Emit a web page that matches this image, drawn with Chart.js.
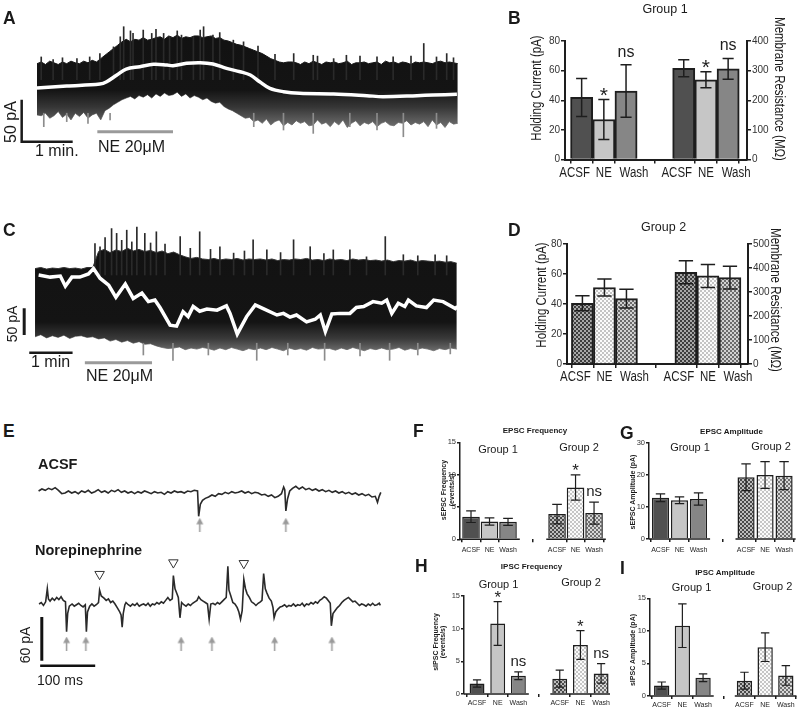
<!DOCTYPE html>
<html>
<head>
<meta charset="utf-8">
<script src="https://cdn.jsdelivr.net/npm/chart.js@4.4.1/dist/chart.umd.min.js"></script>
<style>
  body { margin: 0; width: 797px; height: 711px; position: relative; background: #fff; overflow: hidden; }
  canvas { position: absolute; }
</style>
</head>
<body>
<canvas id="cA" width="470" height="170" style="left:0;top:0"></canvas>
<canvas id="cB" width="327" height="200" style="left:470px;top:0"></canvas>
<canvas id="cC" width="470" height="185" style="left:0;top:200px"></canvas>
<canvas id="cD" width="327" height="185" style="left:470px;top:200px"></canvas>
<canvas id="cE1" width="380" height="72" style="left:20px;top:468px"></canvas>
<canvas id="cE2" width="380" height="142" style="left:20px;top:548px"></canvas>
<canvas id="cF" width="197" height="170" style="left:410px;top:385px"></canvas>
<canvas id="cG" width="197" height="170" style="left:600px;top:385px"></canvas>
<canvas id="cH" width="200" height="166" style="left:410px;top:545px"></canvas>
<canvas id="cI" width="197" height="166" style="left:600px;top:545px"></canvas>
<script>
// ---- panel A : holding current trace, group 1 cell (s, pA) ----
const aTime = [0,5,10,15,20,25,30,35,40,45,50,55,60,65,70,75,80,85,90,95,
  100,105,110,115,120,125,130,135,140,145,150,155,160,165,170,175,180,185,190,195,
  200,205,210,215,220,225,230,235,240,245,250,255,260,265,270,275,280,285,290,295,
  300,305,310,315,320,325,330,335,340,345,350,355,360,365,370,375,380,385,390,395,
  400,405,410,415,420,425,430,435,440,445,450,455,460,465,470,475,480,485,490,495];
const aUpper = [29,31,28,32,30,28,31,29,32,30, 29,32,30,33,31,35,39,43,47,51,
  55,58,55,58,57,60,57,58,60,61, 58,62,60,63,59,61,60,62,62,60,
  61,62,59,60,57,56,54,52,51,49, 47,45,43,41,38,35,33,31,30,31,
  31,30,28,31,29,32,30,28,31,30, 31,29,30,32,28,30,30,31,29,30,
  31,28,32,30,31,29,31,30,28,31, 30,31,30,29,31,32,30,31,30,29];
const aLower = [-32,-33,-30,-36,-33,-28,-35,-31,-38,-30, -34,-29,-36,-32,-30,-38,-27,-24,-20,-17,
  -14,-12,-10,-13,-9,-11,-8,-12,-7,-10, -6,-9,-8,-5,-10,-7,-12,-9,-11,-14,
  -12,-16,-18,-17,-22,-25,-27,-30,-33,-36, -35,-40,-38,-42,-37,-44,-40,-38,-45,-41,
  -44,-39,-42,-40,-45,-44,-38,-43,-41,-46, -40,-44,-38,-47,-42,-39,-45,-41,-43,-40,
  -46,-42,-40,-44,-45,-41,-42,-39,-44,-41, -43,-40,-46,-38,-44,-41,-47,-40,-43,-42];
const aSpikeT = [5,19,30,47,62,74,90,98,102,110,113,125,135,140,149,156,165,170,184,192,
  196,207,215,231,243,260,280,302,325,330,349,364,380,400,419,440,455,470,482,490];
const aSpikeHi = [37,34,36,35,37,41,49,61,73,68,65,69,65,70,65,61,68,63,61,69,
  73,63,66,57,55,50,40,41,39,38,35,39,38,37,37,38,53,37,41,36];
const aDipT = [8,35,60,86,255,290,325,368,400,431,470];
const aDipLo = [-46,-40,-42,-38,-46,-50,-54,-46,-50,-58,-48];
const aMeanT = [0,35,74,82,94,105,121,137,153,160,176,192,207,223,239,251,262,274,290,309,349,388,407,447,466,494];
const aMeanI = [0,2.4,4.8,7.5,15.5,22.6,25.4,28.2,27.4,26.6,29.4,30.2,28.6,23.4,19.4,15.5,7.5,-0.4,-4.4,-6.3,-7.1,-9.1,-10.3,-9.1,-8.3,-7.5];
const aNeOn = [71, 160];

// ---- panel C : holding current trace, group 2 cell (s, pA) ----
const cTime = [0,8,16,24,32,40,48,56,64,72,80,88,96,104,112,120,128,136,144,152,
  160,168,176,184,192,200,208,216,224,232,240,248,256,264,272,280,288,296,304,312,
  320,328,336,344,352,360,368,376,384,392,400,408,416,424,432,440,448,456,464,472,
  480,488,496,504,512,520,528,536,544,552,560,568,576,584];
const cUpper = [12,14,11,13,12,14,12,13,11,14, 14,44,48,42,47,44,50,45,48,44,
  46,42,45,40,43,38,34,31,33,30, 29,31,28,30,29,31,28,30,29,30,
  28,30,27,29,28,30,29,31,28,29, 27,30,28,29,27,30,28,29,27,28,
  26,28,25,27,26,28,25,27,26,25, 26,24,25,22];
const cLower = [-116,-112,-118,-114,-117,-113,-119,-115,-114,-117, -116,-120,-118,-124,-121,-126,-123,-128,-125,-130,
  -129,-133,-136,-138,-137,-135,-140,-137,-139,-136, -138,-141,-137,-140,-136,-139,-142,-138,-140,-137,
  -140,-136,-139,-142,-137,-140,-138,-141,-136,-139, -138,-138,-141,-137,-140,-136,-139,-142,-138,-140,
  -137,-140,-139,-136,-141,-138,-140,-137,-139,-142, -138,-140,-137,-139];
const cSpikeT = [83,90,97,106,113,120,127,134,141,152,160,168,180,201,215,228,243,256,275,290,
  302,321,340,358,381,400,413,436,459,485,510,530,554,570];
const cSpikeHi = [59,53,70,87,78,65,84,62,90,78,60,81,58,72,50,81,48,53,41,45,
  66,47,42,66,53,40,47,47,34,72,38,36,38,36];
const cDipT = [150,191,240,307,350,401,450,491,530,575];
const cDipLo = [-150,-160,-150,-160,-150,-160,-152,-160,-150,-148];
const cMeanT = [5,21,35,42,51,62,74,81,90,102,112,125,136,148,157,166,173,187,196,205,212,219,228,238,252,265,270,280,293,305,
  316,335,344,353,362,376,388,395,402,411,422,436,445,455,468,480,487,494,503,512,517,528,542,552,565,582,585];
const cMeanI = [0,-4,-2,-21,-4,-4,2,12,-6,-19,-42,-17,-44,-34,-50,-47,-61,-94,-96,-69,-78,-59,-68,-64,-66,-58,-72,-111,-78,-56,
  -63,-75,-72,-79,-75,-88,-83,-75,-106,-73,-72,-72,-61,-59,-50,-53,-47,-72,-53,-59,-47,-58,-61,-47,-50,-63,-59];
const cNeOn = [69, 162];

// ---- panel E : spontaneous currents (ms, pA) ----
const acsfT = [0,6,12,18,24,30,36,42,48,54,60,66,72,78,84,90,96,102,108,114,120,126,132,138,144,150,156,162,168,174,
  180,186,192,198,204,210,216,222,228,234,240,246,252,258,264,270,276,282,288,290,293,297,302,308,314,320,
  326,332,338,344,350,356,362,368,374,380,386,392,398,404,410,416,422,428,434,440,444,446,448,451,455,
  460,466,472,478,484,490,496,502,508,514,520,526,532,538,544,550,556,562,568,574,580,586,592,598,604,610,614,617,620];
const acsfI = [2,5,3,6,4,7,3,-2,-1,2,-1,1,-2,2,0,3,-1,1,4,0,2,-1,3,1,4,0,2,-1,1,-2,
  1,-1,2,0,-2,1,-1,0,-3,1,-1,2,0,1,-1,2,1,3,2,-36,-18,-12,-9,-7,-4,-6,
  -2,-3,0,-2,1,-1,0,2,-1,1,-2,0,-1,-4,-3,-6,-4,-8,-6,-2,8,4,-28,-10,2,
  6,9,5,8,4,6,3,5,2,4,1,3,0,2,-1,1,-2,0,-3,-1,-4,-2,-5,-3,-7,-6,-15,-6,0];
const acsfEvents = [292, 448];
const neT = [0,4,8,12,15,17,20,24,28,32,36,40,44,48,50,52,55,60,64,68,72,76,80,84,86,88,92,96,100,104,
  108,110,113,118,122,126,130,134,138,142,146,149,151,153,156,158,162,166,170,174,
  178,182,186,190,194,198,202,206,210,214,218,222,226,230,234,238,242,244,247,250,
  253,256,259,263,267,271,275,279,283,287,290,294,298,302,306,309,312,316,320,324,
  328,332,336,340,343,345,348,352,356,360,363,366,369,372,375,378,382,386,390,394,
  398,402,405,408,411,414,418,422,425,427,430,434,438,442,446,450,454,458,462,466,
  470,474,478,482,486,490,494,498,502,506,510,514,518,522,526,529,531,534,538,542,
  546,550,554,558,562,566,570,574,578,582,586,590,594,598,602,606,610,614,618,620];
const neI = [1,3,-1,4,22,8,5,9,6,10,7,11,6,4,-37,-12,-2,1,-2,0,2,-1,-3,0,-37,-10,-2,1,-2,0,
  3,20,12,9,6,8,3,5,1,-4,-9,-14,-31,-12,0,3,0,-2,1,-1,
  2,-2,0,1,-1,2,-2,1,0,3,1,4,2,6,10,6,8,40,22,16,
  10,-18,3,0,-2,1,-1,2,4,6,11,7,5,3,1,-20,1,2,0,3,
  1,4,7,10,53,20,13,3,1,-4,-10,-20,-8,35,22,15,10,4,2,-1,
  2,4,6,43,22,16,9,5,-4,-18,-10,-6,-3,-2,0,-3,-1,-2,1,-2,
  0,-1,2,-2,1,0,3,1,4,2,6,8,11,9,5,2,-29,-12,-8,-4,
  -1,3,6,8,10,7,4,5,2,-1,1,0,-2,1,-1,2,-1,0,2,-1];
const neEvents = [50, 85, 258, 314, 428, 532];
const neMarkT = [110, 244, 372];
const neMarkI = [42, 58, 57];

// ---- bar graphs ----
const conditions = ["ACSF", "NE", "Wash"];
const holdG1 = [41.9, 27, 46.2];
const holdG1Sem = [12.8, 13.5, 17.7];
const holdG1Sig = ["", "*", "ns"];
const resG1 = [308, 269, 306];
const resG1Sem = [29, 27, 35];
const resG1Sig = ["", "*", "ns"];
const holdG2 = [40.5, 51, 43.6];
const holdG2Sem = [5, 5.7, 6.2];
const resG2 = [382, 367, 360];
const resG2Sem = [48, 48, 47];
const epscFreqG1 = [3.5, 2.75, 2.7];
const epscFreqG1Sem = [0.9, 0.55, 0.55];
const epscFreqG2 = [3.9, 8.0, 4.05];
const epscFreqG2Sem = [1.5, 1.95, 1.7];
const epscFreqG2Sig = ["", "*", "ns"];
const epscAmpG1 = [12.9, 12.1, 12.5];
const epscAmpG1Sem = [1.2, 1.05, 1.9];
const epscAmpG2 = [19.3, 20.0, 19.8];
const epscAmpG2Sem = [4.2, 4.15, 4.35];
const ipscG1 = [1.6, 10.8, 2.8];
const ipscG1Sem = [0.55, 3.35, 0.6];
const ipscG1Sig = ["", "*", "ns"];
const ipscG2 = [2.35, 7.5, 3.15];
const ipscG2Sem = [1.3, 2.2, 1.5];
const ipscG2Sig = ["", "*", "ns"];

const FONT = '"Liberation Sans", Arial, Helvetica, sans-serif';
const NARROW = 0.82;
Chart.defaults.font.family = FONT;
Chart.defaults.color = '#333';

const pts = (xs, ys) => xs.map((x, i) => ({ x, y: ys[i] }));
const hairs = (xs, ends, from) => xs.map((x, i) => ({ x, y: [from, ends[i]] }));

function bandFill(stops) {
  return (ctx) => {
    const area = ctx.chart.chartArea;
    if (!area) return '#111';
    const g = ctx.chart.ctx.createLinearGradient(0, area.top, 0, area.bottom);
    stops.forEach(([o, c]) => g.addColorStop(o, c));
    return g;
  };
}

function checker(a, b, s) {
  const cv = document.createElement('canvas');
  cv.width = cv.height = 2 * s;
  const g = cv.getContext('2d');
  g.fillStyle = a; g.fillRect(0, 0, 2 * s, 2 * s);
  g.fillStyle = b; g.fillRect(0, 0, s, s); g.fillRect(s, s, s, s);
  return g.createPattern(cv, 'repeat');
}

function arrowImg() {
  const cv = document.createElement('canvas');
  cv.width = 9; cv.height = 14;
  const g = cv.getContext('2d');
  g.strokeStyle = '#9a9a9a'; g.fillStyle = '#9a9a9a'; g.lineWidth = 1.5;
  g.beginPath(); g.moveTo(4.5, 4); g.lineTo(4.5, 14); g.stroke();
  g.beginPath(); g.moveTo(1, 6.5); g.lineTo(4.5, 0); g.lineTo(8, 6.5); g.closePath(); g.fill();
  return cv;
}

function traceChart(id, xr, yr, datasets) {
  return new Chart(document.getElementById(id), {
    type: 'line',
    data: { datasets },
    options: {
      responsive: false, animation: false, devicePixelRatio: 1,
      layout: { padding: 0 },
      plugins: { legend: { display: false }, tooltip: { enabled: false } },
      elements: { point: { radius: 0 }, line: { tension: 0 } },
      scales: {
        x: { type: 'linear', display: false, offset: false, min: xr[0], max: xr[1] },
        y: { type: 'linear', display: false, offset: false, min: yr[0], max: yr[1] },
      },
    },
  });
}

const hairBar = (data, color, order) => ({
  type: 'bar', data, backgroundColor: color, borderWidth: 0, barThickness: 1, grouped: false, order,
});

// A
traceChart('cA', [-43.5, 509.4], [-97.6, 104.8], [
  { data: pts(aMeanT, aMeanI), borderColor: '#fff', borderWidth: 3.5, tension: 0.35, order: 0 },
  { data: [{ x: -18, y: -14 }, { x: -18, y: -64 }, { x: 42, y: -64 }], borderColor: '#1a1a1a', borderWidth: 2.5, borderJoinStyle: 'miter', order: 1 },
  { data: aNeOn.map((t) => ({ x: t, y: -52 })), borderColor: '#9a9a9a', borderWidth: 3, order: 1 },
  hairBar(hairs(aSpikeT, aSpikeHi, 10), '#2a2a2a', 3),
  hairBar(hairs(aDipT, aDipLo, -30), '#8c8c8c', 3),
  { data: pts(aTime, aUpper), borderColor: '#151515', borderWidth: 1, fill: '+1', order: 5,
    backgroundColor: bandFill([[0, '#101010'], [0.53, '#141414'], [0.63, '#363636'], [0.73, '#666'], [0.85, '#9a9a9a']]) },
  { data: pts(aTime, aLower), borderColor: '#8a8a8a', borderWidth: 1, order: 6 },
]);

// C
traceChart('cC', [-48.5, 602.3], [-206.3, 140.6], [
  { data: pts(cMeanT, cMeanI), borderColor: '#fff', borderWidth: 3.5, order: 0 },
  { data: [{ x: -15, y: -62.5 }, { x: -15, y: -112.5 }], borderColor: '#1a1a1a', borderWidth: 3, order: 1 },
  { data: [{ x: -8, y: -145.6 }, { x: 52, y: -145.6 }], borderColor: '#1a1a1a', borderWidth: 2.5, order: 1 },
  { data: cNeOn.map((t) => ({ x: t, y: -164.4 })), borderColor: '#9a9a9a', borderWidth: 3, order: 1 },
  hairBar(hairs(cSpikeT, cSpikeHi, 0), '#2a2a2a', 3),
  hairBar(hairs(cDipT, cDipLo, -128), '#8c8c8c', 3),
  { data: pts(cTime, cUpper), borderColor: '#333', borderWidth: 1, fill: '+1', order: 5,
    backgroundColor: bandFill([[0, '#111'], [0.66, '#141414'], [0.75, '#3a3a3a'], [0.83, '#777'], [0.95, '#aaa']]) },
  { data: pts(cTime, cLower), borderColor: '#888', borderWidth: 1, order: 6 },
]);

// E
const arrow = arrowImg();
traceChart('cE1', [-22.8, 643.9], [-62.5, 27.5], [
  { data: pts(acsfT, acsfI), borderColor: '#2a2a2a', borderWidth: 1.6 },
  { data: acsfEvents.map((t) => ({ x: t, y: -48.7 })), showLine: false, pointRadius: 5, pointStyle: arrow },
]);
traceChart('cE2', [-22.8, 643.9], [-108.4, 69.1], [
  { data: pts(neT, neI), borderColor: '#2a2a2a', borderWidth: 1.6 },
  { data: neEvents.map((t) => ({ x: t, y: -53.4 })), showLine: false, pointRadius: 5, pointStyle: arrow },
  { data: pts(neMarkT, neMarkI), showLine: false, pointRadius: 5.5, pointStyle: 'triangle', rotation: 180,
    pointBackgroundColor: '#fff', pointBorderColor: '#333', pointBorderWidth: 1 },
  { data: [{ x: 5, y: -17 }, { x: 5, y: -77 }], borderColor: '#111', borderWidth: 3 },
  { data: [{ x: 2, y: -84 }, { x: 102, y: -84 }], borderColor: '#111', borderWidth: 2.5 },
]);

// ---- bar panels ----
function decorPlugin(p) {
  return {
    id: 'decor',
    afterDatasetsDraw(chart) {
      const c = chart.ctx;
      const area = chart.chartArea;
      const xs = chart.scales.x;
      c.save();
      const barsByGroup = [];
      chart.data.datasets.forEach((ds, di) => {
        const meta = chart.getDatasetMeta(di);
        const ys = chart.scales[ds.yAxisID];
        barsByGroup.push(meta.data);
        meta.data.forEach((bar, i) => {
          const v = ds.data[i].y;
          const e = ds.sem[i];
          const top = ys.getPixelForValue(v + e);
          const bot = ys.getPixelForValue(v - e);
          const cap = (bar.width * p.capRatio) / 2;
          c.strokeStyle = '#1e1e1e';
          c.lineWidth = p.errWidth;
          c.beginPath();
          c.moveTo(bar.x, top); c.lineTo(bar.x, bot);
          c.moveTo(bar.x - cap, top); c.lineTo(bar.x + cap, top);
          c.moveTo(bar.x - cap, bot); c.lineTo(bar.x + cap, bot);
          c.stroke();
          const s = ds.sig[i];
          if (s) {
            c.fillStyle = '#1e1e1e';
            c.textAlign = 'center';
            c.textBaseline = 'alphabetic';
            if (s === '*') {
              c.font = `${p.starFont}px ${FONT}`;
              c.fillText(s, bar.x, top - p.starGap);
            } else {
              c.font = `${p.sigFont}px ${FONT}`;
              c.fillText(s, bar.x, top - p.nsGap);
            }
          }
        });
      });
      if (p.splitBase) {
        c.strokeStyle = '#1e1e1e';
        c.lineWidth = p.axisWidth;
        barsByGroup.forEach((bars, gi) => {
          const first = bars[0], last = bars[bars.length - 1];
          const x0 = gi === 0 ? area.left : first.x - first.width / 2 - 2;
          const x1 = last.x + last.width / 2 + 3;
          c.beginPath();
          c.moveTo(x0, area.bottom); c.lineTo(x1, area.bottom);
          c.stroke();
        });
      }
      c.fillStyle = '#1e1e1e';
      c.textAlign = 'center';
      c.textBaseline = 'alphabetic';
      c.font = `${p.labelFont}px ${FONT}`;
      xs.ticks.forEach((t, i) => {
        const shift = p.labelShift ? p.labelShift[i % 3] : 0;
        c.save();
        c.translate(xs.getPixelForValue(t.value) + shift, area.bottom + p.labelGap);
        c.scale(p.squeeze || 1, 1);
        c.fillText(conditions[i % 3], 0, 0);
        c.restore();
      });
      c.restore();
    },
  };
}

function yAxis(o, pos, p) {
  return {
    type: 'linear', position: pos, min: 0, max: o.max,
    afterFit: (s) => { s.width = o.width; },
    ticks: { stepSize: o.step, font: { size: p.tickFont }, color: '#333', padding: 1 },
    grid: { drawOnChartArea: false, tickLength: p.tickLen, color: '#1e1e1e', lineWidth: 1.5 },
    border: { color: '#1e1e1e', width: p.axisWidth },
  };
}

function barPanel(id, p) {
  const pos = [];
  p.starts.forEach((s) => conditions.forEach((c, i) => pos.push(s + i)));
  const datasets = p.groups.map((g, gi) => ({
    yAxisID: g.axis || 'y',
    data: g.values.map((v, i) => ({ x: p.starts[gi] + i, y: v })),
    sem: g.sem,
    sig: g.sig || [],
    backgroundColor: g.fills,
    borderColor: '#1e1e1e',
    borderWidth: p.border,
    barPercentage: p.barPct,
    categoryPercentage: 1,
    grouped: false,
  }));
  const scales = {
    x: {
      type: 'linear', offset: false, min: p.xMin, max: p.xMax,
      afterBuildTicks: (s) => { s.ticks = pos.map((v) => ({ value: v })); },
      afterFit: (s) => { s.height = p.xHeight; },
      ticks: { display: false },
      grid: { drawOnChartArea: false, tickLength: p.tickLen, color: '#1e1e1e', lineWidth: 1.5 },
      border: { display: !p.splitBase, color: '#1e1e1e', width: p.axisWidth },
    },
    y: yAxis(p.y, 'left', p),
  };
  if (p.y1) scales.y1 = yAxis(p.y1, 'right', p);
  return new Chart(document.getElementById(id), {
    type: 'bar',
    data: { datasets },
    options: {
      responsive: false, animation: false, devicePixelRatio: 1,
      layout: { padding: { top: p.top, right: p.right || 0, left: 0, bottom: 0 } },
      plugins: { legend: { display: false }, tooltip: { enabled: false } },
      scales,
    },
    plugins: [decorPlugin(p)],
  });
}

const g1Fills = ['#505050', '#c6c6c6', '#868686'];
const dFills = [checker('#3e3e3e', '#a8a8a8', 2), checker('#fbfbfb', '#c4c4c4', 2), checker('#6c6c6c', '#d2d2d2', 2)];
const g2Fills = [checker('#4a4a4a', '#bdbdbd', 2), checker('#fbfbfb', '#c6c6c6', 2), checker('#717171', '#d8d8d8', 2)];

barPanel('cB', {
  groups: [
    { values: holdG1, sem: holdG1Sem, sig: holdG1Sig, fills: g1Fills, axis: 'y' },
    { values: resG1, sem: resG1Sem, sig: resG1Sig, fills: g1Fills, axis: 'y1' },
  ],
  starts: [0, 4.6], xMin: -0.75, xMax: 7.45,
  y: { max: 80, step: 20, width: 95 }, y1: { max: 400, step: 100, width: 50 },
  top: 41, xHeight: 40.5, barPct: 1, border: 2, capRatio: 0.5, errWidth: 1.5, axisWidth: 2,
  tickFont: 10, tickLen: 4, labelFont: 14, labelGap: 17, labelShift: [-7, 0, 8], squeeze: NARROW,
  sigFont: 16, starFont: 21, starGap: -2, nsGap: 8,
});

barPanel('cD', {
  groups: [
    { values: holdG2, sem: holdG2Sem, fills: dFills, axis: 'y' },
    { values: resG2, sem: resG2Sem, fills: dFills, axis: 'y1' },
  ],
  starts: [0, 4.7], xMin: -0.7, xMax: 7.52,
  y: { max: 80, step: 20, width: 97 }, y1: { max: 500, step: 100, width: 49 },
  top: 44, xHeight: 21, barPct: 1, border: 2, capRatio: 0.65, errWidth: 1.5, axisWidth: 2,
  tickFont: 10, tickLen: 4, labelFont: 14, labelGap: 17, labelShift: [-7, 0, 8], squeeze: NARROW,
  sigFont: 16, starFont: 21, starGap: -2, nsGap: 8,
});

const smallPanel = {
  border: 1.5, capRatio: 0.55, errWidth: 1.2, axisWidth: 1.5, tickFont: 7.5, tickLen: 3,
  labelFont: 7, sigFont: 15, starFont: 17, starGap: -1, nsGap: 6, splitBase: true,
};

barPanel('cF', Object.assign({}, smallPanel, {
  groups: [
    { values: epscFreqG1, sem: epscFreqG1Sem, fills: g1Fills },
    { values: epscFreqG2, sem: epscFreqG2Sem, sig: epscFreqG2Sig, fills: g2Fills },
  ],
  starts: [0, 4.65], xMin: -0.595, xMax: 7.35,
  y: { max: 15, step: 5, width: 50 }, top: 57.3, xHeight: 15.7, barPct: 0.95, labelGap: 12.5,
}));

barPanel('cG', Object.assign({}, smallPanel, {
  groups: [
    { values: epscAmpG1, sem: epscAmpG1Sem, fills: g1Fills },
    { values: epscAmpG2, sem: epscAmpG2Sem, fills: g2Fills },
  ],
  starts: [0, 4.5], xMin: -0.605, xMax: 7.18,
  y: { max: 30, step: 10, width: 49 }, top: 58, xHeight: 16, barPct: 0.9, labelGap: 12.5,
}));

barPanel('cH', Object.assign({}, smallPanel, {
  groups: [
    { values: ipscG1, sem: ipscG1Sem, sig: ipscG1Sig, fills: g1Fills },
    { values: ipscG2, sem: ipscG2Sem, sig: ipscG2Sig, fills: g2Fills },
  ],
  starts: [0, 4], xMin: -0.63, xMax: 6.43,
  y: { max: 15, step: 5, width: 54 }, top: 51, xHeight: 17, barPct: 0.72, labelGap: 11,
}));

barPanel('cI', Object.assign({}, smallPanel, {
  groups: [
    { values: ipscG1, sem: ipscG1Sem, fills: g1Fills },
    { values: ipscG2, sem: ipscG2Sem, fills: g2Fills },
  ],
  starts: [0, 4], xMin: -0.565, xMax: 6.54,
  y: { max: 15, step: 5, width: 50 }, top: 53.3, xHeight: 15, barPct: 0.74, labelGap: 11,
}));

// ---- text ----
function addText(txt, x, base, size, o = {}) {
  const d = document.createElement('div');
  d.textContent = txt;
  const s = d.style;
  s.position = 'absolute';
  s.left = x + 'px';
  s.top = (base - 0.85 * size) + 'px';
  s.font = `${o.bold ? 'bold ' : ''}${size}px ${FONT}`;
  s.lineHeight = '1';
  s.whiteSpace = 'nowrap';
  s.color = o.color || '#1a1a1a';
  if (o.center) s.transform = 'translateX(-50%)';
  document.body.appendChild(d);
}

function addVText(txt, cx, cy, size, o = {}) {
  const d = document.createElement('div');
  d.textContent = txt;
  const s = d.style;
  s.position = 'absolute';
  s.left = cx + 'px';
  s.top = cy + 'px';
  s.font = `${o.bold ? 'bold ' : ''}${size}px ${FONT}`;
  s.lineHeight = '1';
  s.whiteSpace = 'nowrap';
  s.color = o.color || '#1a1a1a';
  s.transform = `translate(-50%, -50%) rotate(${o.rot || -90}deg) scaleX(${o.squeeze || 1})`;
  document.body.appendChild(d);
}

[['A', 3, 25], ['B', 508, 25], ['C', 3, 237], ['D', 508, 237], ['E', 3, 438],
 ['F', 413, 438], ['G', 620, 440], ['H', 415, 573], ['I', 620, 575]]
  .forEach(([t, x, y]) => addText(t, x, y, 17.5, { bold: true }));

addVText('50 pA', 11, 122, 16);
addText('1 min.', 35, 157, 16);
addText('NE 20\u03bcM', 98, 153, 16);

addVText('50 pA', 12, 324, 14);
addText('1 min', 31, 368, 16);
addText('NE 20\u03bcM', 86, 382, 16);

addText('Group 1', 665, 13.5, 12.5, { center: true });
addVText('Holding Current (pA)', 536, 88, 14, { squeeze: NARROW });
addVText('Membrane Resistance (M\u03a9)', 780, 89, 14, { squeeze: NARROW, rot: 90 });
addText('Group 2', 663.5, 232, 12.5, { center: true });
addVText('Holding Current (pA)', 541, 295, 14, { squeeze: NARROW });
addVText('Membrane Resistance (M\u03a9)', 776, 300, 14, { squeeze: NARROW, rot: 90 });

addText('ACSF', 38, 469.5, 14.5, { bold: true });
addText('Norepinephrine', 35, 555, 14.5, { bold: true });
addText('100 ms', 37, 685, 14);
addVText('60 pA', 25, 645, 14);

addText('EPSC Frequency', 535, 434, 8, { bold: true, center: true });
addText('Group 1', 498, 453, 11, { center: true });
addText('Group 2', 579, 451.5, 11, { center: true });
addVText('sEPSC Frequency', 443, 490, 7, { bold: true });
addVText('(events/s)', 450.5, 490, 7, { bold: true });

addText('EPSC Amplitude', 731.5, 435, 8, { bold: true, center: true });
addText('Group 1', 690, 451.5, 11, { center: true });
addText('Group 2', 771, 450, 11, { center: true });
addVText('sEPSC Amplitude (pA)', 632, 492, 7, { bold: true });

addText('IPSC Frequency', 531.5, 570, 8, { bold: true, center: true });
addText('Group 1', 498.5, 588.3, 11, { center: true });
addText('Group 2', 581, 586.7, 11, { center: true });
addVText('sIPSC Frequency', 435, 641.5, 7, { bold: true });
addVText('(events/s)', 442, 641.5, 7, { bold: true });

addText('IPSC Amplitude', 725, 575.7, 8, { bold: true, center: true });
addText('Group 1', 691.5, 591.7, 11, { center: true });
addText('Group 2', 772.5, 590.7, 11, { center: true });
addVText('sIPSC Amplitude (pA)', 631.5, 649.5, 7, { bold: true });
</script>
</body>
</html>
